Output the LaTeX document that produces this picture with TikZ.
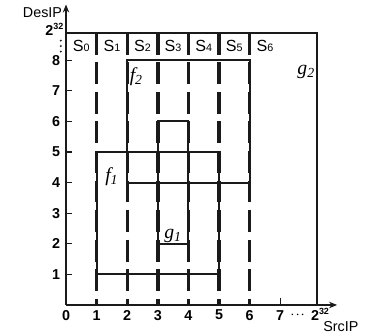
\documentclass[tikz,border=0pt]{standalone}
\usepackage{fontspec}
\setmainfont{Liberation Sans}
\newfontfamily\flowfont{Liberation Serif}
\usetikzlibrary{arrows.meta}
\definecolor{inkblack}{HTML}{1A1A1A}

\begin{document}
\begin{tikzpicture}[x=0.6cm,y=0.6cm,>={Stealth[length=4.5pt,width=3.6pt]},
  axis/.style={->,inkblack,line width=1pt},
  rulebox/.style={inkblack,line width=1.1pt},
  slicecut/.style={inkblack,line width=1.9pt,dash pattern=on 0.43cm off 0.15cm},
  num/.style={font=\fontsize{8}{9}\selectfont\bfseries,inner sep=1pt},
  axlbl/.style={font=\fontsize{8}{9}\selectfont,inner sep=1pt},
  slicelbl/.style={font=\fontsize{9}{10}\selectfont,inner sep=1pt},
  flowlbl/.style={font=\fontsize{11}{12}\selectfont\flowfont\itshape,inner sep=1pt}]
  \useasboundingbox (-2.157,-0.948) rectangle (10.065,9.967);

  % axes
  \coordinate (O) at (0,0);
  \coordinate (xend) at (8.86,0);
  \coordinate (yend) at (0,9.82);
  \draw[axis] (O) -- (xend);
  \draw[axis] (O) -- (yend);
  \node[axlbl,anchor=east] (deslbl) at (-0.06,9.57) {DesIP};
  \node[axlbl] (srclbl) at (8.98,-0.7) {SrcIP};

  % whole space g2
  \coordinate (gtl) at (0,8.9);
  \coordinate (gtr) at (8.19,8.9);
  \coordinate (gbr) at (8.19,0);
  \draw[rulebox] (gtl) -- (gtr) -- (gbr);

  % slices
  \foreach \k in {1,...,6}
    \draw[slicecut] (\k,8.9) -- (\k,0);
  \foreach \k in {0,...,6}
    \node[slicelbl] (s\k) at (\k+0.5,8.45) {S{\fontsize{6}{7}\selectfont\k}};

  % rules
  \draw[rulebox] (1,1) rectangle (5,5);
  \draw[rulebox] (2,4) rectangle (6,8);
  \draw[rulebox] (3,2) rectangle (4,6);
  \node[flowlbl] (f1) at (1.5,4.2) {f\textsubscript{1}};
  \node[flowlbl] (f2) at (2.3,7.45) {f\textsubscript{2}};
  \node[flowlbl] (g1) at (3.5,2.25) {g\textsubscript{1}};
  \node[flowlbl] (g2) at (7.85,7.6) {g\textsubscript{2}};

  % ticks and numbers
  \foreach \k in {1,...,8} {
    \draw[rulebox,line width=0.6pt] (0,\k) -- (0.2,\k);
    \node[num,anchor=east] (y\k) at (-0.12,\k) {\k};
  }
  \foreach \k in {0,...,7}
    \node[num] (x\k) at (\k,-0.33) {\k};
  \draw[rulebox,line width=0.6pt] (7,0) -- (7,0.22);
  \node[num] (xdots) at (7.57,-0.33) {$\cdot\!\cdot\!\cdot$};
  \node[num] (xmax) at (8.3,-0.3) {2\raisebox{0.8ex}{\fontsize{5}{6}\selectfont 32}};
  \node[num,anchor=east] (ymax) at (-0.02,9.02) {2\raisebox{0.8ex}{\fontsize{5}{6}\selectfont 32}};
  \foreach \y in {8.64,8.46,8.28}
    \fill[inkblack] (-0.17,\y) circle (0.6pt);
\end{tikzpicture}
\end{document}
